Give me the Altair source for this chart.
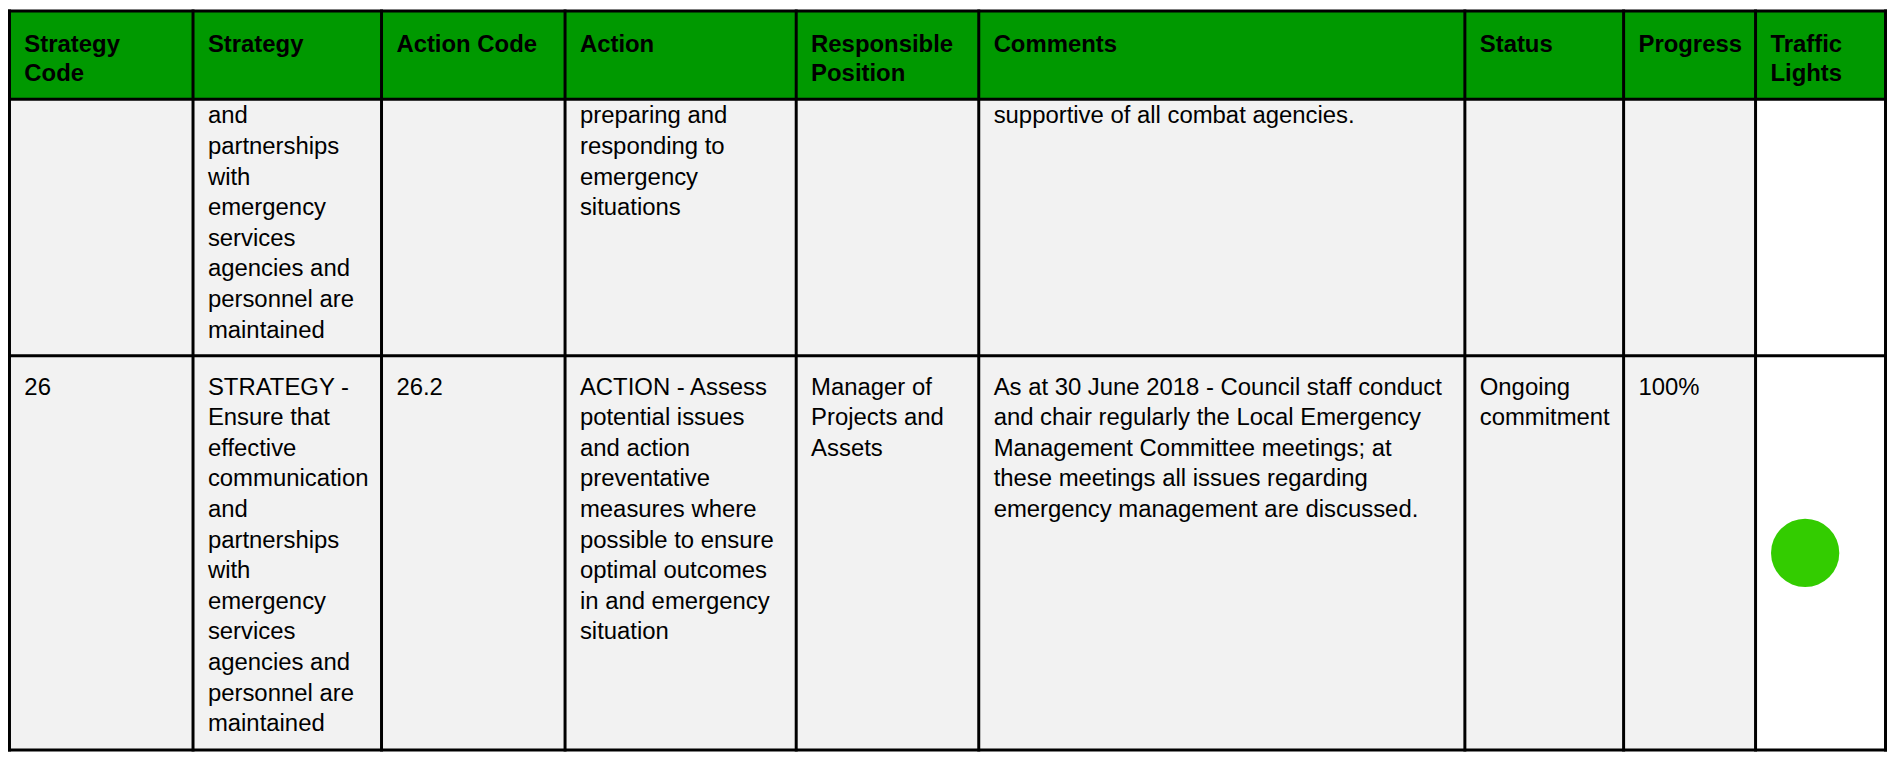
import altair as alt
import pandas as pd

# ---------------- data ----------------
headers = [
    ["Strategy", "Code"],
    ["Strategy"],
    ["Action Code"],
    ["Action"],
    ["Responsible", "Position"],
    ["Comments"],
    ["Status"],
    ["Progress"],
    ["Traffic", "Lights"],
]

# row 1 (continued from previous page)
row1_cells = [
    [],
    ["and", "partnerships", "with", "emergency", "services", "agencies and",
     "personnel are", "maintained"],
    [],
    ["preparing and", "responding to", "emergency", "situations"],
    [],
    ["supportive of all combat agencies."],
    [],
    [],
]

# row 2
row2_cells = [
    ["26"],
    ["STRATEGY -", "Ensure that", "effective", "communication", "and",
     "partnerships", "with", "emergency", "services", "agencies and",
     "personnel are", "maintained"],
    ["26.2"],
    ["ACTION - Assess", "potential issues", "and action", "preventative",
     "measures where", "possible to ensure", "optimal outcomes",
     "in and emergency", "situation"],
    ["Manager of", "Projects and", "Assets"],
    ["As at 30 June 2018 - Council staff conduct",
     "and chair regularly the Local Emergency",
     "Management Committee meetings; at",
     "these meetings all issues regarding",
     "emergency management are discussed."],
    ["Ongoing", "commitment"],
    ["100%"],
]

traffic_lights = [None, "Green"]

# ---------------- layout / style ----------------
COL_EDGES = [2, 187, 377, 562, 795, 979, 1469, 1629, 1762, 1893]
ROW_EDGES = [2, 93, 358, 765]
HEADER_BASE = 44
HEADER_STEP = 30
ROW_FIRST_BASE = [118, 398]
BODY_STEP = 31.6
TEXT_PAD = 15
LIGHT_OFFSET_X = 50
LIGHT_SIZE = 4700

HEADER_FILL = "#009900"
BODY_FILL = "#F2F2F2"
LIGHT_FILL = "#FFFFFF"
LIGHT_COLORS = {"Green": "#33CC00"}
FONT = "Liberation Sans"
FONT_SIZE = 24

W, H = 1887, 745
xs = alt.Scale(domain=[0.5, 1894.5], nice=False, zero=False)
ys = alt.Scale(domain=[0.5, 766.5], nice=False, zero=False, reverse=True)

ncol = len(headers)

# backgrounds
bg = []
for r in range(3):
    for c in range(ncol):
        if r == 0:
            fill = HEADER_FILL
        elif c == ncol - 1:
            fill = LIGHT_FILL
        else:
            fill = BODY_FILL
        bg.append(dict(x=COL_EDGES[c], x2=COL_EDGES[c + 1],
                       y=ROW_EDGES[r], y2=ROW_EDGES[r + 1], fill=fill))
bg_df = pd.DataFrame(bg)

# grid lines
vlines = pd.DataFrame([dict(x=e, y=ROW_EDGES[0], y2=ROW_EDGES[-1]) for e in COL_EDGES])
hlines = pd.DataFrame([dict(y=e, x=COL_EDGES[0], x2=COL_EDGES[-1]) for e in ROW_EDGES])

# header text
ht = []
for c, lines in enumerate(headers):
    for i, t in enumerate(lines):
        ht.append(dict(x=COL_EDGES[c] + TEXT_PAD, y=HEADER_BASE + i * HEADER_STEP, text=t))
ht_df = pd.DataFrame(ht)

# body text
bt = []
for r, cells in enumerate([row1_cells, row2_cells]):
    for c, lines in enumerate(cells):
        for i, t in enumerate(lines):
            bt.append(dict(x=COL_EDGES[c] + TEXT_PAD,
                           y=ROW_FIRST_BASE[r] + i * BODY_STEP, text=t))
bt_df = pd.DataFrame(bt)

# traffic lights
tl = []
for r, light in enumerate(traffic_lights):
    if light:
        tl.append(dict(x=COL_EDGES[-2] + LIGHT_OFFSET_X,
                       y=(ROW_EDGES[r + 1] + ROW_EDGES[r + 2]) / 2,
                       color=LIGHT_COLORS[light]))
tl_df = pd.DataFrame(tl)

X = lambda f: alt.X(f, type="quantitative", scale=xs, axis=None)
Y = lambda f: alt.Y(f, type="quantitative", scale=ys, axis=None)

rects = alt.Chart(bg_df).mark_rect(strokeWidth=0).encode(
    x=X("x"), x2="x2", y=Y("y"), y2="y2",
    color=alt.Color("fill:N", scale=None, legend=None),
)

vr = alt.Chart(vlines).mark_rule(color="black", strokeWidth=3, strokeCap="square").encode(
    x=X("x"), y=Y("y"), y2="y2")
hr = alt.Chart(hlines).mark_rule(color="black", strokeWidth=3, strokeCap="square").encode(
    y=Y("y"), x=X("x"), x2="x2")

htext = alt.Chart(ht_df).mark_text(
    align="left", baseline="alphabetic", font=FONT, fontSize=FONT_SIZE,
    fontWeight="bold", color="black").encode(x=X("x"), y=Y("y"), text="text:N")

btext = alt.Chart(bt_df).mark_text(
    align="left", baseline="alphabetic", font=FONT, fontSize=FONT_SIZE,
    color="black").encode(x=X("x"), y=Y("y"), text="text:N")

lights = alt.Chart(tl_df).mark_point(
    shape="circle", filled=True, size=LIGHT_SIZE, opacity=1, strokeWidth=0).encode(
    x=X("x"), y=Y("y"), color=alt.Color("color:N", scale=None, legend=None))

chart = alt.layer(rects, lights, vr, hr, htext, btext).properties(
    width=W, height=H,
    autosize=alt.AutoSizeParams(type="none"),
    padding=0,
    background="white",
).configure_view(stroke=None)

chart.save("out.html", embed_options={"renderer": "svg", "actions": False})
